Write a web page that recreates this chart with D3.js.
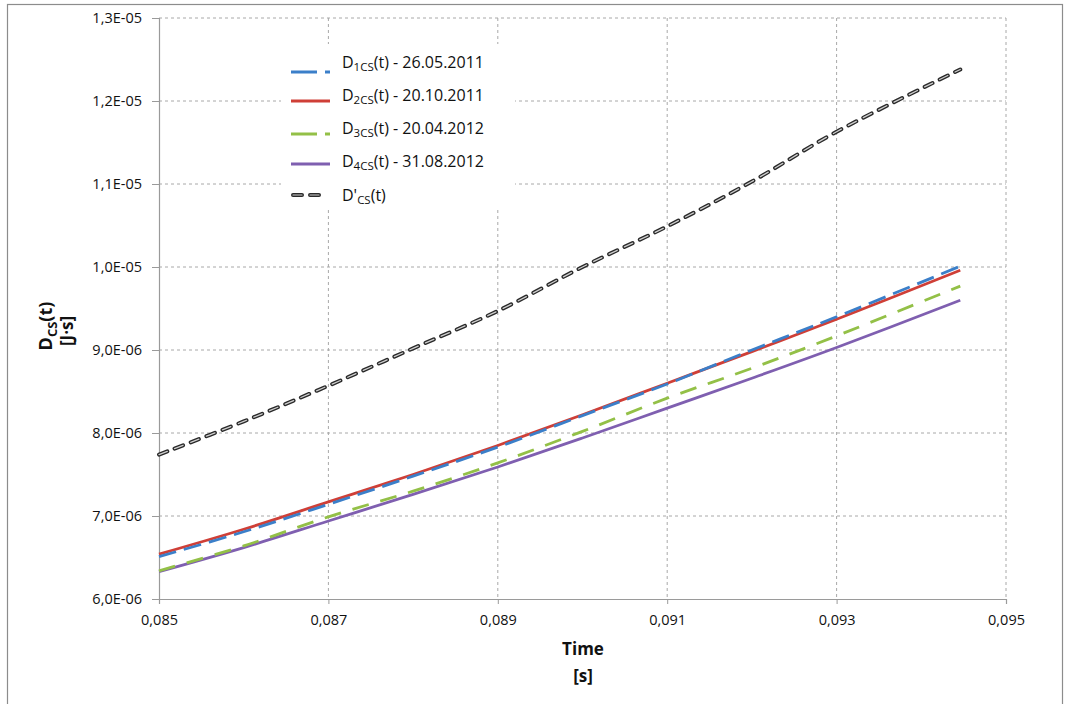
<!DOCTYPE html>
<html>
<head>
<meta charset="utf-8">
<script src="https://d3js.org/d3.v7.min.js"></script>
<style>
  html, body { margin: 0; padding: 0; background: #fff; }
  svg { display: block; }
  text { font-family: "Open Sans", "Noto Sans", sans-serif; fill: #111; }
</style>
</head>
<body>
<svg id="chart" width="1070" height="704"></svg>
<script>
// ---- data ----
const time = [0.085, 0.086, 0.087, 0.088, 0.089, 0.090, 0.091, 0.092, 0.093, 0.09446];
const d1cs = [6.51e-6, 6.81e-6, 7.14e-6, 7.48e-6, 7.83e-6, 8.21e-6, 8.59e-6, 9.00e-6, 9.40e-6, 1.001e-5];
const d2cs = [6.54e-6, 6.84e-6, 7.17e-6, 7.50e-6, 7.85e-6, 8.22e-6, 8.60e-6, 8.98e-6, 9.37e-6, 9.96e-6];
const d3cs = [6.34e-6, 6.64e-6, 6.99e-6, 7.30e-6, 7.64e-6, 8.02e-6, 8.42e-6, 8.78e-6, 9.17e-6, 9.77e-6];
const d4cs = [6.33e-6, 6.62e-6, 6.94e-6, 7.26e-6, 7.59e-6, 7.94e-6, 8.30e-6, 8.66e-6, 9.03e-6, 9.60e-6];
const dPrime = [7.74e-6, 8.14e-6, 8.57e-6, 9.02e-6, 9.47e-6, 1.000e-5, 1.049e-5, 1.103e-5, 1.163e-5, 1.238e-5];
const xTicks = [0.085, 0.087, 0.089, 0.091, 0.093, 0.095];
const xTickLabels = ["0,085", "0,087", "0,089", "0,091", "0,093", "0,095"];
const yTicks = [6e-6, 7e-6, 8e-6, 9e-6, 1e-5, 1.1e-5, 1.2e-5, 1.3e-5];
const yTickLabels = ["6,0E-06", "7,0E-06", "8,0E-06", "9,0E-06", "1,0E-05", "1,1E-05", "1,2E-05", "1,3E-05"];
const seriesNames = [
  {main: "D", sub: "1CS", rest: "(t) - 26.05.2011"},
  {main: "D", sub: "2CS", rest: "(t) - 20.10.2011"},
  {main: "D", sub: "3CS", rest: "(t) - 20.04.2012"},
  {main: "D", sub: "4CS", rest: "(t) - 31.08.2012"},
  {main: "D'", sub: "CS", rest: "(t)"}
];

// ---- layout ----
const svg = d3.select("#chart");
const L = 159, R = 1006, T = 18, B = 599;
const x = d3.scaleLinear().domain([0.085, 0.095]).range([L, R]);
const y = d3.scaleLinear().domain([6e-6, 1.3e-5]).range([B, T]);

// outer frame
svg.append("rect").attr("x", 7.5).attr("y", 4.5).attr("width", 1055).attr("height", 710)
  .attr("fill", "#fff").attr("stroke", "#8c8c8c").attr("stroke-width", 1.2);

// gridlines
const grid = svg.append("g");
grid.selectAll(".gy").data(yTicks.slice(1)).join("line")
  .attr("x1", L).attr("x2", R).attr("y1", d => y(d)).attr("y2", d => y(d))
  .attr("stroke", "#a8a8a8").attr("stroke-width", 1).attr("stroke-dasharray", "3,3");
grid.selectAll(".gx").data(xTicks.slice(1)).join("line")
  .attr("y1", T).attr("y2", B).attr("x1", d => x(d)).attr("x2", d => x(d))
  .attr("stroke", "#a8a8a8").attr("stroke-width", 1).attr("stroke-dasharray", "3,3");

// axes
const xAxis = d3.axisBottom(x).tickValues(xTicks).tickFormat((d, i) => xTickLabels[i]).tickSize(5).tickPadding(8);
const yAxis = d3.axisLeft(y).tickValues(yTicks).tickFormat((d, i) => yTickLabels[i]).tickSize(7).tickPadding(10);
const gx = svg.append("g").attr("transform", `translate(0,${B})`).call(xAxis);
const gy = svg.append("g").attr("transform", `translate(${L},0)`).call(yAxis);
[gx, gy].forEach(g => {
  g.select(".domain").attr("stroke", "#9a9a9a").attr("stroke-width", 1.2);
  g.selectAll(".tick line").attr("stroke", "#9a9a9a");
  g.selectAll(".tick text").style("font-family", "'Open Sans', sans-serif").style("font-size", "14.5px").attr("fill", "#111");
});
gx.selectAll(".tick text").attr("dy", "0.9em");

// axis titles
svg.append("text").attr("x", 583).attr("y", 655).attr("text-anchor", "middle")
  .style("font-weight", "bold").style("font-size", "17px").text("Time");
svg.append("text").attr("x", 583).attr("y", 682).attr("text-anchor", "middle")
  .style("font-weight", "bold").style("font-size", "17px").text("[s]");
const yt = svg.append("text").attr("transform", "translate(52,326) rotate(-90)").attr("text-anchor", "middle")
  .style("font-weight", "bold").style("font-size", "18px");
yt.append("tspan").text("D");
yt.append("tspan").attr("dy", 5).style("font-size", "13px").text("CS");
yt.append("tspan").attr("dy", -5).text("(t)");
svg.append("text").attr("transform", "translate(73,331) rotate(-90)").attr("text-anchor", "middle")
  .style("font-weight", "bold").style("font-size", "17px").text("[J·s]");

// lines
const line = d3.line().x(d => x(d[0])).y(d => y(d[1])).curve(d3.curveCatmullRom);
const zip = arr => time.map((t, i) => [t, arr[i]]);
const plot = svg.append("g");
const styles = [
  {data: d4cs, color: "#7f5fb0", dash: null},
  {data: d3cs, color: "#93c047", dash: "17,12"},
  {data: d2cs, color: "#cf3f37", dash: null},
  {data: d1cs, color: "#3b7fc9", dash: "18,8"}
];
styles.forEach(s => {
  plot.append("path").attr("d", line(zip(s.data))).attr("fill", "none")
    .attr("stroke", s.color).attr("stroke-width", 2.8).attr("stroke-dasharray", s.dash);
});
// D' double-stroked dashes
plot.append("path").attr("d", line(zip(dPrime))).attr("fill", "none")
  .attr("stroke", "#2a2a2a").attr("stroke-width", 4).attr("stroke-dasharray", "9,8").attr("stroke-linecap", "round");
plot.append("path").attr("d", line(zip(dPrime))).attr("fill", "none")
  .attr("stroke", "#cfcfcf").attr("stroke-width", 1.3).attr("stroke-dasharray", "9,8").attr("stroke-linecap", "round");

// legend
const lg = svg.append("g");
lg.append("rect").attr("x", 281).attr("y", 44).attr("width", 234).attr("height", 164).attr("fill", "#fff");
const legendItems = [
  {color: "#3b7fc9", dash: "26,8", ty: 62, ly: 72},
  {color: "#cf3f37", dash: null, ty: 95, ly: 101},
  {color: "#93c047", dash: "26,8", ty: 128, ly: 134},
  {color: "#7f5fb0", dash: null, ty: 161, ly: 164},
  {color: "#2a2a2a", dash: "9,8", ty: 195, ly: 195, prime: true}
];
legendItems.forEach((it, i) => {
  if (it.prime) {
    lg.append("line").attr("x1", 293).attr("x2", 322).attr("y1", it.ly).attr("y2", it.ly)
      .attr("stroke", "#2a2a2a").attr("stroke-width", 4).attr("stroke-dasharray", it.dash).attr("stroke-linecap", "round");
    lg.append("line").attr("x1", 293).attr("x2", 322).attr("y1", it.ly).attr("y2", it.ly)
      .attr("stroke", "#cfcfcf").attr("stroke-width", 1.2).attr("stroke-dasharray", it.dash).attr("stroke-linecap", "round");
  } else {
    lg.append("line").attr("x1", 291).attr("x2", 330).attr("y1", it.ly).attr("y2", it.ly)
      .attr("stroke", it.color).attr("stroke-width", 3).attr("stroke-dasharray", it.dash);
  }
  const n = seriesNames[i];
  const t = lg.append("text").attr("x", 342).attr("y", it.ty).attr("dy", "0.35em").style("font-size", "16px");
  t.append("tspan").text(n.main);
  t.append("tspan").attr("dy", 3).style("font-size", "11.5px").text(n.sub);
  t.append("tspan").attr("dy", -3).text(n.rest);
});
</script>
</body>
</html>
